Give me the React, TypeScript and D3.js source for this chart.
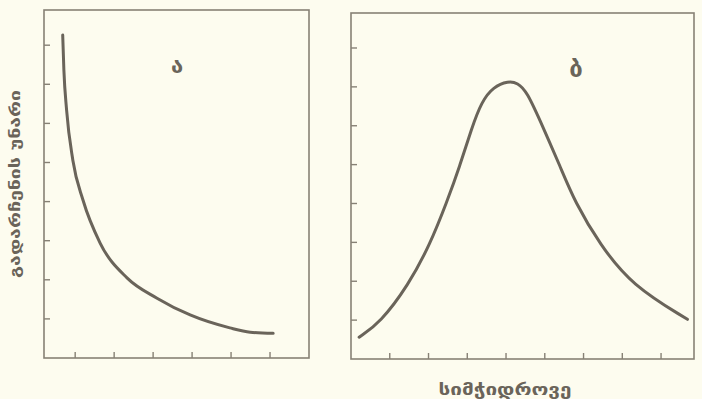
import React from 'react';
import * as d3 from 'd3';

// panel "ა": survival falls with density
const declineX = [0.68, 0.71, 0.78, 0.94, 1.2, 1.64, 2.33, 3.1, 3.95, 4.97, 5.49, 6.08];
const declineY = [8.26, 7.37, 6.34, 5.06, 4.04, 2.94, 2.05, 1.53, 1.1, 0.77, 0.66, 0.63];

// panel "ბ": optimum at medium density
const peakX = [0.21, 0.75, 1.48, 2.04, 2.47, 2.81, 3.11, 3.37, 3.67, 4.06, 4.3, 4.53, 4.96, 5.39, 5.78, 6.42, 7.24, 8.68];
const peakY = [0.56, 0.93, 1.9, 2.95, 4.03, 4.97, 5.93, 6.62, 7.0, 7.15, 7.1, 6.9, 5.95, 4.97, 4.03, 2.95, 1.9, 1.02];

const leftXTicks = [1, 2, 3, 4, 5, 6];
const rightXTicks = [1, 2, 3, 4, 5, 6, 7, 8];
const yTicks = [1, 2, 3, 4, 5, 6, 7, 8];

const yLabel = 'გადარჩენის უნარი';
const xLabel = 'სიმჭიდროვე';
const panelLabels = ['ა', 'ბ'];

const bg = '#fdfcef';
const frame = '#878175';
const ink = '#6a645a';
const font = "'DejaVu Sans', sans-serif";

type PanelProps = {
  left: number; right: number; top: number; bottom: number;
  xDomain: [number, number]; xTicks: number[];
  xs: number[]; ys: number[];
  label: string; labelPos: [number, number]; labelSize: number;
  curve: d3.CurveFactory;
};

const Panel = ({ left, right, top, bottom, xDomain, xTicks, xs, ys, label, labelPos, labelSize, curve }: PanelProps) => {
  const x = d3.scaleLinear().domain(xDomain).range([left, right]);
  const y = d3.scaleLinear().domain([0, 8.9]).range([bottom, top]);
  const pts = xs.map((v, i) => [v, ys[i]] as [number, number]);
  const line = d3.line<[number, number]>()
    .x(d => x(d[0]))
    .y(d => y(d[1]))
    .curve(curve);
  const tickLen = 6;
  return (
    <g>
      <rect x={left} y={top} width={right - left} height={bottom - top}
        fill="none" stroke={frame} strokeWidth={1.6} />
      {yTicks.map(t => (
        <line key={'y' + t} x1={left} x2={left + tickLen} y1={y(t)} y2={y(t)}
          stroke={frame} strokeWidth={1.4} />
      ))}
      {xTicks.map(t => (
        <line key={'x' + t} x1={x(t)} x2={x(t)} y1={bottom} y2={bottom - tickLen}
          stroke={frame} strokeWidth={1.4} />
      ))}
      <path d={line(pts) || ''} fill="none" stroke={ink} strokeWidth={3}
        strokeLinecap="round" strokeLinejoin="round" />
      <text x={labelPos[0]} y={labelPos[1]} textAnchor="middle" fontFamily={font}
        fontWeight="bold" fontSize={labelSize} fill={ink}>{label}</text>
    </g>
  );
};

const App = () => {
  const W = 702;
  const H = 399;
  return (
    <svg width={W} height={H} style={{ position: 'absolute', left: 0, top: 0, background: bg }}>
      <rect x={0} y={0} width={W} height={H} fill={bg} />
      <Panel left={44} right={309} top={10} bottom={358}
        xDomain={[0.2, 7]} xTicks={leftXTicks}
        xs={declineX} ys={declineY}
        label={panelLabels[0]} labelPos={[177, 73]} labelSize={22}
        curve={d3.curveMonotoneX} />
      <Panel left={351} right={694} top={13} bottom={359}
        xDomain={[0, 8.85]} xTicks={rightXTicks}
        xs={peakX} ys={peakY}
        label={panelLabels[1]} labelPos={[576, 77]} labelSize={24}
        curve={d3.curveBasis} />
      <text transform="translate(20,184) rotate(-90)" textAnchor="middle"
        fontFamily={font} fontWeight="bold" fontSize={14} fill={ink}
        textLength={188} lengthAdjust="spacingAndGlyphs">{yLabel}</text>
      <text x={505} y={395} textAnchor="middle" fontFamily={font} fontWeight="bold"
        fontSize={16} fill={ink} textLength={133} lengthAdjust="spacingAndGlyphs">{xLabel}</text>
    </svg>
  );
};

export default App;
